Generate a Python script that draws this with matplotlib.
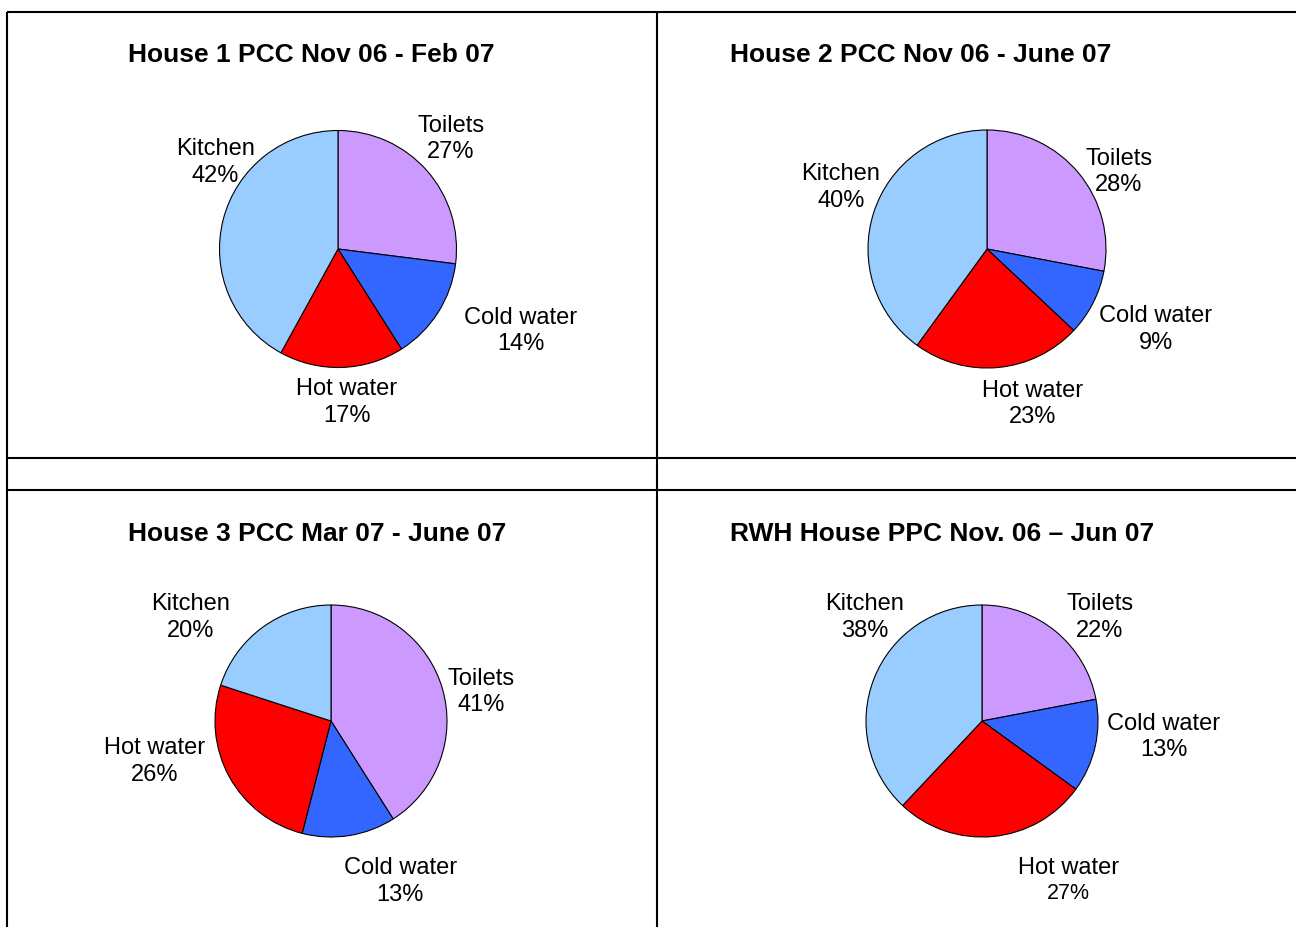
import matplotlib
matplotlib.use("Agg")
import matplotlib.pyplot as plt
from matplotlib.lines import Line2D

plt.rcParams["font.family"] = ["Liberation Sans", "DejaVu Sans"]

# datos
categorias = ["Toilets", "Cold water", "Hot water", "Kitchen"]
colores = ["#CC99FF", "#3366FF", "#FF0000", "#99CCFF"]

titulos = [
    "House 1 PCC Nov 06 - Feb 07",
    "House 2 PCC Nov 06 - June 07",
    "House 3 PCC Mar 07 - June 07",
    "RWH House PPC Nov. 06 \u2013 Jun 07",
]
casa1 = [27, 14, 17, 42]
casa2 = [28, 9, 23, 40]
casa3 = [41, 13, 26, 20]
casa_rwh = [22, 13, 27, 38]
valores = [casa1, casa2, casa3, casa_rwh]

# disposicion (pixeles): centro y radio de cada torta, posicion del titulo
W, H = 1296, 928
centros = [(338, 250), (987, 250), (331, 722), (982, 722)]
radios = [118.5, 119, 116, 116]
pos_titulos = [(128, 55), (730, 55), (128, 534), (730, 534)]

# posicion de etiquetas en unidades de radio (relativas al centro)
pos_etiquetas = [
    [(0.95, 0.95), (1.543, -0.667), (0.073, -1.27), (-1.034, 0.755)],
    [(1.109, 0.672), (1.416, -0.651), (0.387, -1.28), (-1.227, 0.542)],
    [(1.296, 0.272), (0.597, -1.358), (-1.524, -0.328), (-1.209, 0.914)],
    [(1.017, 0.914), (1.569, -0.116), (0.744, -1.349), (-1.013, 0.914)],
]
baja_etiqueta = 0.015  # pequeno ajuste vertical del texto


def px(x, y):
    return x / W, 1 - y / H


fig = plt.figure(figsize=(W / 100, H / 100), dpi=100)
fig.patch.set_facecolor("white")

# lineas de la tabla
lw = 1.5
lineas = [
    ((6.5, W), (12.7, 12.7)),
    ((6.5, 6.5), (12.7, H)),
    ((657, 657), (12.7, H)),
    ((6.5, W), (458.5, 458.5)),
    ((6.5, W), (490.8, 490.8)),
]
for xs, ys in lineas:
    x0, y0 = px(xs[0], ys[0])
    x1, y1 = px(xs[1], ys[1])
    fig.add_artist(Line2D([x0, x1], [y0, y1], color="black", linewidth=lw,
                          solid_capstyle="butt"))

for i in range(4):
    cx, cy = centros[i]
    r = radios[i]
    half = 2 * r
    left, bottom = px(cx - half, cy + half)
    ax = fig.add_axes([left, bottom, 2 * half / W, 2 * half / H])
    ax.axis("off")
    ax.pie(valores[i], colors=colores, startangle=90, counterclock=False,
           radius=1, wedgeprops=dict(edgecolor="black", linewidth=0.8))
    ax.set_xlim(-2, 2)
    ax.set_ylim(-2, 2)
    ax.set_aspect("equal")

    for j, cat in enumerate(categorias):
        dx, dy = pos_etiquetas[i][j]
        dy -= baja_etiqueta
        if i == 3 and cat == "Hot water":
            ax.text(dx, dy + 0.105, cat, ha="center", va="center", fontsize=17)
            ax.text(dx, dy - 0.115, f"{valores[i][j]}%", ha="center", va="center", fontsize=15.5)
        else:
            ax.text(dx, dy, f"{cat}\n{valores[i][j]}%", ha="center", va="center",
                    fontsize=17, multialignment="center", linespacing=1.27)

    tx, ty = pos_titulos[i]
    fx, fy = px(tx, ty)
    fig.text(fx, fy, titulos[i], ha="left", va="center", fontsize=19, fontweight="bold")

plt.savefig("out.png", dpi=100)
plt.close()
